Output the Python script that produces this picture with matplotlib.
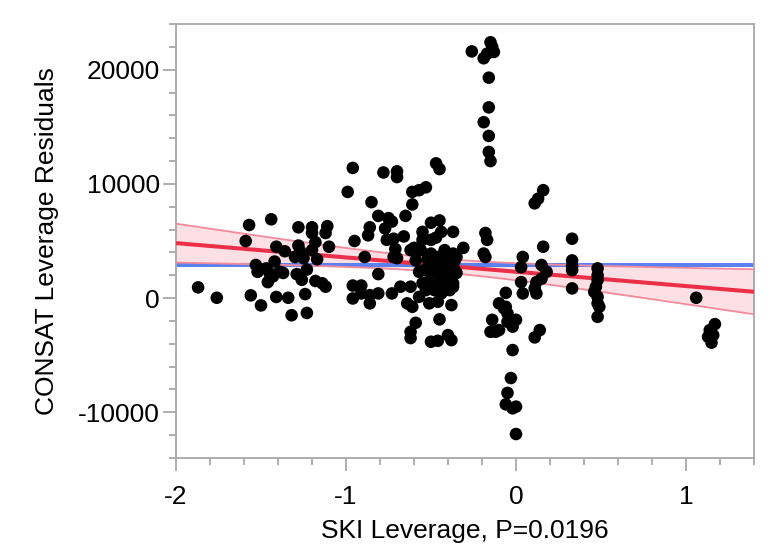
import numpy as np
import matplotlib
matplotlib.use("Agg")
import matplotlib.pyplot as plt
from matplotlib.ticker import MultipleLocator

plt.rcParams['font.family'] = ['Liberation Sans', 'DejaVu Sans']
plt.rcParams['axes.unicode_minus'] = False

# ---- data ----
ski_leverage = [
    -1.87, -1.76, -1.57, -1.59, -1.44, -1.56, -1.50, -1.53, -1.52, -1.47, -1.45, -1.42, -1.46, -1.43,
    -1.39, -1.37, -1.41, -1.36, -1.41, -1.34, -1.32, -1.23, -1.24, -1.28, -1.20, -1.20, -1.11, -1.12,
    -1.10, -1.28, -1.27, -1.30, -1.25, -1.20, -1.18, -1.17, -1.23, -1.29, -1.26, -1.18, -1.14, -1.12,
    -0.96, -0.91, -0.96, -0.86, -0.86, -0.81, -0.91, -0.96, -0.99, -0.78, -0.70, -0.70, -0.85, -0.61,
    -0.57, -0.53, -0.61, -0.81, -0.75, -0.73, -0.77, -0.65, -0.86, -0.87, -0.95, -0.76, -0.72, -0.66,
    -0.71, -0.72, -0.70, -0.89, -0.81, -0.73, -0.68, -0.62, -0.64, -0.61, -0.59, -0.62, -0.62,
    -0.47, -0.45, -0.55, -0.50, -0.45, -0.44, -0.47, -0.37, -0.31, -0.60, -0.56, -0.59, -0.62, -0.55,
    -0.50, -0.42, -0.37, -0.36, -0.38,
    -0.50, -0.46, -0.42, -0.39, -0.48, -0.44, -0.40, -0.37, -0.35, -0.44, -0.40, -0.37, -0.50, -0.54,
    -0.52, -0.46, -0.42, -0.39, -0.36, -0.57, -0.57, -0.55, -0.50, -0.51, -0.46, -0.44, -0.38, -0.37,
    -0.45, -0.50, -0.46, -0.40, -0.38,
    -0.48, -0.42, -0.46, -0.40, -0.52, -0.35, -0.43, -0.48, -0.53,
    -0.26, -0.15, -0.14, -0.17, -0.13, -0.19, -0.16, -0.16, -0.19, -0.16, -0.16, -0.15, -0.18, -0.17,
    -0.19, -0.18, -0.06, -0.10, -0.07, -0.05, -0.14, -0.12, -0.05, -0.02, 0.00, -0.15, -0.10, -0.06,
    -0.02, -0.03, -0.05, -0.06, -0.02, 0.00, 0.00,
    0.04, 0.03, 0.03, 0.04, 0.16, 0.13, 0.11, 0.15, 0.18, 0.15, 0.12, 0.12, 0.16, 0.11, 0.14, 0.11,
    0.33, 0.33, 0.33, 0.33, 0.33,
    0.48, 0.48, 0.48, 0.47, 0.46, 0.48, 0.48, 0.49, 0.48,
    1.06, 1.17, 1.14, 1.16, 1.13, 1.15,
]
consat_residuals = [
    940, 30, 6400, 5000, 6900, 240, -640, 2900, 2300, 2600, 2200, 3200, 1400, 1900,
    2300, 2200, 4500, 4100, 100, 30, -1500, -1300, 350, 6200, 6200, 5700, 6300, 5700,
    4500, 4600, 4100, 3600, 3500, 4200, 4900, 3400, 2500, 2100, 1600, 1500, 1300, 1000,
    1100, 1100, -30, 260, -460, 410, 410, 11400, 9300, 11000, 11100, 10600, 8400, 9300,
    9450, 9700, 8200, 7200, 7000, 6700, 6100, 7200, 6200, 5500, 5000, 5100, 5200, 5400,
    4300, 3600, 3500, 3600, 2100, 410, 1000, 1000, -460, -760, -2160, -2950, -3500,
    11800, 11300, 5800, 6600, 6800, 5800, 5300, 5800, 4400, 4400, 4200, 3300, 4200, 5100,
    5100, 4200, 3900, 3300, 1900,
    3900, 3600, 3300, 3000, 3000, 2700, 2450, 2700, 2200, 1900, 1600, 1300, 2200, 2450,
    1400, 1300, 1000, 700, 2450, 2300, 110, 1300, 1000, -460, -320, 410, -610, 990,
    -1860, -3820, -3740, -3240, -3680,
    2500, 2100, 2300, 3600, 3400, 3600, 600, 700, 700,
    21600, 22400, 22000, 21400, 21550, 21000, 19300, 16700, 15400, 14200, 12800, 12000, 5700, 5100,
    3900, 3600, 460, -460, -900, -1340, -1900, -2950, -2070, -2500, -1900, -2950, -2800, -760,
    -4550, -7000, -8300, -9300, -9650, -9500, -11900,
    410, 1400, 2700, 3600, 9450, 8700, 8300, 2900, 2300, 1700, 1400, 410, 4500, 850, -2800, -3440,
    5200, 3300, 2800, 2450, 850,
    2600, 2000, 1580, 990, 550, 110, -460, -760, -1640,
    30, -2280, -2800, -3240, -3390, -3900,
]

# fit summary
mean_leverage = -0.44
mean_residual = 2860
fit_slope = -1253
band_center_hw = 600      # half-width of confidence band at the mean
band_slope_hw = 1020      # growth of half-width with distance from mean

x_ticks = [-2, -1, 0, 1]
y_ticks = [-10000, 0, 10000, 20000]
x_label = "SKI Leverage, P=0.0196"
y_label = "CONSAT Leverage Residuals"

# ---- figure ----
fig = plt.figure(figsize=(7.71, 5.60), dpi=100)
ax = fig.add_axes([176/771, 1 - 458/560, (754-176)/771, (458-24)/560])

xlim = (-2, 1.4)
ylim = (-14000, 24000)
xs = np.linspace(xlim[0], xlim[1], 200)
fit = mean_residual + fit_slope * (xs - mean_leverage)
hw = np.sqrt(band_center_hw**2 + (band_slope_hw * (xs - mean_leverage))**2)

ax.fill_between(xs, fit - hw, fit + hw, color='#fde0e5', lw=0, zorder=1)
ax.axhline(mean_residual, color='#5b80f0', lw=2.9, zorder=2)
ax.plot(xs, fit + hw, color='#f48a9b', lw=1.3, zorder=3)
ax.plot(xs, fit - hw, color='#f48a9b', lw=1.3, zorder=3)
ax.plot(xs, fit, color='#ec2f48', lw=2.9, zorder=4, solid_capstyle='butt')

ax.scatter(ski_leverage, consat_residuals, s=82, color='black', edgecolors='none', zorder=5)

ax.set_xlim(*xlim)
ax.set_ylim(*ylim)
ax.set_xticks(x_ticks)
ax.set_yticks(y_ticks)
ax.xaxis.set_minor_locator(MultipleLocator(0.2))
ax.yaxis.set_minor_locator(MultipleLocator(2000))

for sp in ax.spines.values():
    sp.set_color('#a8a8a8')
    sp.set_linewidth(1.3)

ax.tick_params(which='both', direction='out', color='#a8a8a8', width=1.3,
               labelsize=19, labelcolor='black')
ax.tick_params(which='major', length=9.5, pad=2)
ax.tick_params(which='minor', length=5)
ax.tick_params(axis='x', which='major', pad=10)

ax.set_xlabel(x_label, fontsize=19, labelpad=7)
ax.set_ylabel(y_label, fontsize=19, labelpad=14)

fig.savefig('out.png', dpi=100, facecolor='white')
